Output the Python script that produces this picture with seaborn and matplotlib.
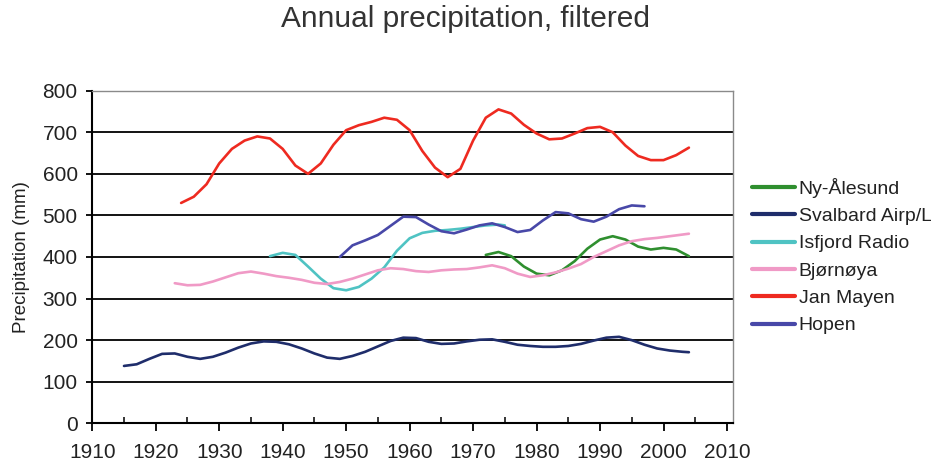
import matplotlib
matplotlib.use("Agg")
import matplotlib.pyplot as plt
from matplotlib.ticker import MultipleLocator
import numpy as np
import pandas as pd
import seaborn as sns

# Filtered annual precipitation (mm) per station
stations = ["Ny-Ålesund", "Svalbard Airp/L", "Isfjord Radio", "Bjørnøya", "Jan Mayen", "Hopen"]
colors = ["#2F8F2F", "#1F2D6B", "#4FC3C3", "#F09AC6", "#EE2A20", "#4848A8"]

ny_alesund_years = [1972, 1974, 1976, 1978, 1980, 1982, 1984, 1986, 1988, 1990, 1992, 1994,
                    1996, 1998, 2000, 2002, 2004]
ny_alesund_mm = [405, 412, 402, 377, 360, 356, 368, 390, 420, 442, 450, 442,
                 425, 418, 422, 418, 402]

svalbard_years = [1915, 1917, 1919, 1921, 1923, 1925, 1927, 1929, 1931, 1933, 1935, 1937,
                  1939, 1941, 1943, 1945, 1947, 1949, 1951, 1953, 1955, 1957, 1959, 1961,
                  1963, 1965, 1967, 1969, 1971, 1973, 1975, 1977, 1979, 1981, 1983, 1985,
                  1987, 1989, 1991, 1993, 1995, 1997, 1999, 2001, 2003, 2004]
svalbard_mm = [138, 142, 155, 167, 168, 160, 155, 160, 170, 182, 192, 197,
               196, 190, 180, 168, 158, 155, 162, 172, 185, 198, 206, 205,
               196, 191, 192, 197, 201, 202, 196, 189, 186, 184, 184, 186,
               191, 199, 206, 208, 200, 189, 180, 175, 172, 171]

isfjord_years = [1938, 1940, 1942, 1944, 1946, 1948, 1950, 1952, 1954, 1956, 1958, 1960,
                 1962, 1964, 1966, 1968, 1970, 1972, 1974, 1975]
isfjord_mm = [402, 410, 405, 377, 348, 325, 320, 328, 348, 375, 415, 445,
              458, 463, 465, 468, 472, 476, 478, 476]

bjornoya_years = [1923, 1925, 1927, 1929, 1931, 1933, 1935, 1937, 1939, 1941, 1943, 1945,
                  1947, 1949, 1951, 1953, 1955, 1957, 1959, 1961, 1963, 1965, 1967, 1969,
                  1971, 1973, 1975, 1977, 1979, 1981, 1983, 1985, 1987, 1989, 1991, 1993,
                  1995, 1997, 1999, 2001, 2003, 2004]
bjornoya_mm = [337, 332, 333, 341, 351, 361, 365, 360, 354, 350, 345, 338,
               335, 340, 348, 358, 368, 373, 371, 366, 364, 368, 370, 371,
               375, 380, 373, 360, 352, 356, 363, 372, 383, 400, 414, 428,
               438, 443, 446, 450, 454, 456]

jan_mayen_years = list(range(1924, 2005, 2))
jan_mayen_mm = [530, 545, 575, 625, 660, 680, 690, 685, 660, 620, 600, 625,
                670, 705, 717, 725, 735, 730, 705, 655, 615, 592, 612, 680,
                735, 755, 745, 718, 697, 683, 685, 697, 710, 713, 700, 668,
                643, 633, 633, 645, 663]

hopen_years = [1949, 1951, 1953, 1955, 1957, 1959, 1961, 1963, 1965, 1967, 1969, 1971,
               1973, 1975, 1977, 1979, 1981, 1983, 1985, 1987, 1989, 1991, 1993, 1995, 1997]
hopen_mm = [400, 428, 440, 453, 475, 497, 496, 478, 462, 457, 466, 476,
            481, 472, 460, 465, 488, 508, 505, 491, 485, 497, 515, 524, 522]

series = [
    (ny_alesund_years, ny_alesund_mm),
    (svalbard_years, svalbard_mm),
    (isfjord_years, isfjord_mm),
    (bjornoya_years, bjornoya_mm),
    (jan_mayen_years, jan_mayen_mm),
    (hopen_years, hopen_mm),
]

frames = []
for name, (yrs, vals) in zip(stations, series):
    frames.append(pd.DataFrame({"year": yrs, "mm": vals, "station": name}))
df = pd.concat(frames, ignore_index=True)

sns.set_style("white")
plt.rcParams["font.family"] = ["Liberation Sans", "DejaVu Sans"]

fig = plt.figure(figsize=(9.31, 4.66), dpi=100)
ax = fig.add_axes([0.0991, 0.0916, 0.6879, 0.7138])

ax.set_xlim(1910, 2010.9)
ax.set_ylim(0, 800)

# horizontal gridlines
for yv in range(100, 800, 100):
    ax.axhline(yv, color="black", lw=1.3, zorder=1)

sns.lineplot(data=df, x="year", y="mm", hue="station", hue_order=stations,
             palette=dict(zip(stations, colors)), linewidth=1.9, ax=ax,
             estimator=None, sort=True, zorder=3)

ax.xaxis.set_major_locator(MultipleLocator(10))
ax.xaxis.set_minor_locator(MultipleLocator(5))
ax.yaxis.set_major_locator(MultipleLocator(100))
ax.tick_params(axis="x", which="major", direction="out", length=6, width=1.3,
               pad=8, labelsize=15, colors="black", labelcolor="#222222", bottom=True)
ax.tick_params(axis="x", which="minor", direction="in", length=4, width=1.3, bottom=True)
ax.tick_params(axis="y", which="major", direction="out", length=4.5, width=1.3,
               pad=6, labelsize=15, colors="black", labelcolor="#222222", left=True)

for side in ("left", "bottom"):
    ax.spines[side].set_color("black")
    ax.spines[side].set_linewidth(1.5)
for side in ("top", "right"):
    ax.spines[side].set_color("#8a8a8a")
    ax.spines[side].set_linewidth(1.0)

ax.set_xlabel("")
ax.set_ylabel("Precipitation (mm)", fontsize=13.5, color="#222222", labelpad=9)

fig.suptitle("Annual precipitation, filtered", x=0.5, y=0.99, fontsize=21.5,
             color="#333333")

handles, labels = ax.get_legend_handles_labels()
if ax.legend_ is not None:
    ax.legend_.remove()
leg = fig.legend(handles, labels, loc="center left", bbox_to_anchor=(0.8077, 0.4506),
                 frameon=False, fontsize=14, handlelength=2.2, handletextpad=0.2,
                 labelspacing=0.5, borderpad=0, borderaxespad=0)
for line in leg.get_lines():
    line.set_linewidth(3)
for t in leg.get_texts():
    t.set_color("#222222")

fig.savefig("out.png", dpi=100)
